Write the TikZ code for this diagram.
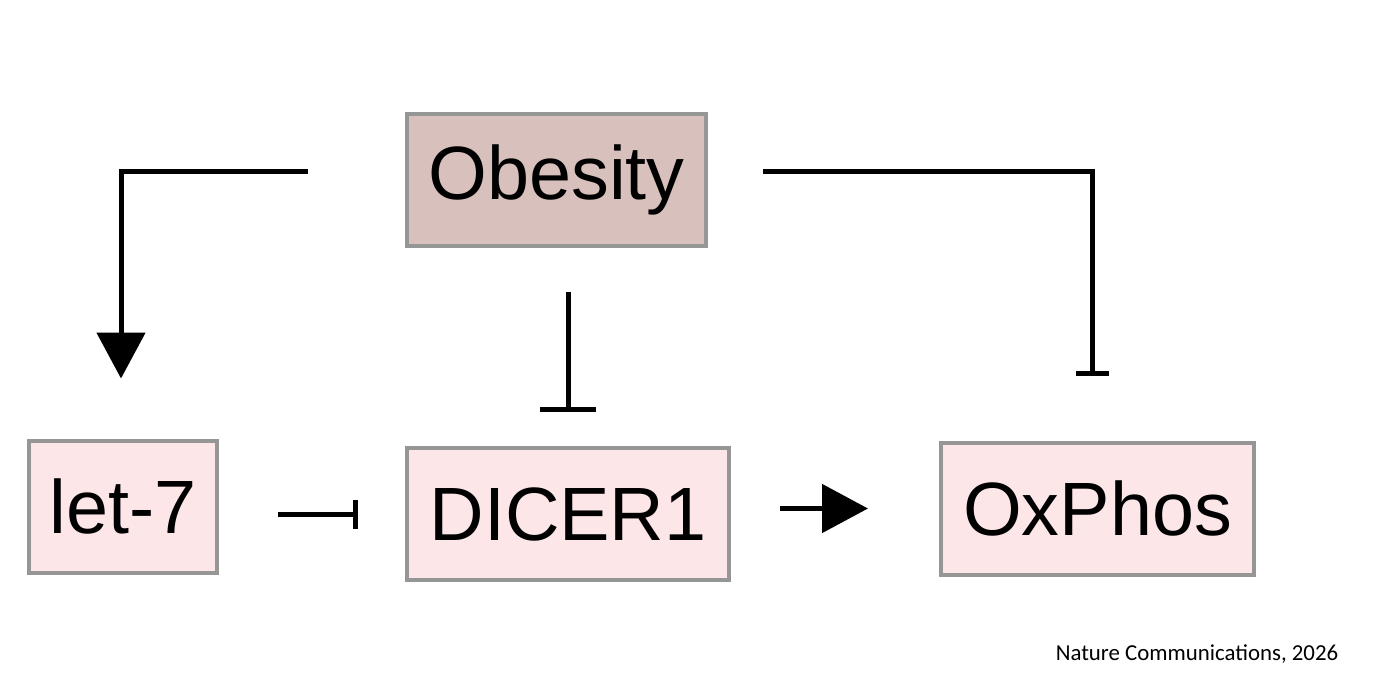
\documentclass[tikz,border=0pt]{standalone}
\usepackage{fontspec}
\setmainfont{Liberation Sans}
\newfontfamily\capfont{Carlito}
\usepackage{tikz}
\usetikzlibrary{arrows.meta, positioning, calc}
\definecolor{obesefill}{RGB}{216, 192, 189}
\definecolor{genefill}{RGB}{252, 230, 232}
\definecolor{boxline}{RGB}{150, 150, 150}

\tikzset{
    factor/.style={draw=boxline, line width=0.08cm, inner sep=0pt, minimum height=2.64cm, font=\fontsize{43}{50}\selectfont},
    promote/.style={line width=0.1cm, -{Triangle[width=0.96cm, length=0.92cm]}},
    inhibit/.style={line width=0.1cm, -{Bar[width=#1, line width=0.1cm]}},
}

\begin{document}
\begin{tikzpicture}
\useasboundingbox (0,0) rectangle (27.86,13.64);

% boxes
\node[factor, fill=obesefill, minimum width=5.98cm] (obesity) at (11.13,10.04) {Obesity};
\node[factor, fill=genefill, minimum width=3.76cm] (let7) at (2.46,3.51) {let-7};
\node[factor, fill=genefill, minimum width=6.44cm] (dicer) at (11.36,3.36) {DICER1};
\node[factor, fill=genefill, minimum width=6.26cm] (oxphos) at (21.95,3.47) {OxPhos};

% connectors
\draw[promote, shorten <=1.94cm, shorten >=1.2cm] ([yshift=0.18cm]obesity.west) -| ([xshift=-0.04cm]let7.north);
\draw[inhibit=0.66cm, shorten <=1.1cm, shorten >=1.3cm] ([yshift=0.18cm]obesity.east) -| ([xshift=-0.1cm]oxphos.north);
\draw[inhibit=1.12cm, shorten <=0.88cm, shorten >=0.68cm] (dicer.north |- obesity.south) -- (dicer.north);
\draw[inhibit=0.58cm, shorten <=1.18cm, shorten >=0.94cm] (let7.east |- dicer.west) -- (dicer.west);
\draw[promote, shorten <=0.98cm, shorten >=1.42cm] (dicer.east |- oxphos.west) -- (oxphos.west);

\node[font=\capfont\fontsize{13}{15}\selectfont] (source) at (23.94,0.56) {Nature Communications, 2026};
\end{tikzpicture}
\end{document}
